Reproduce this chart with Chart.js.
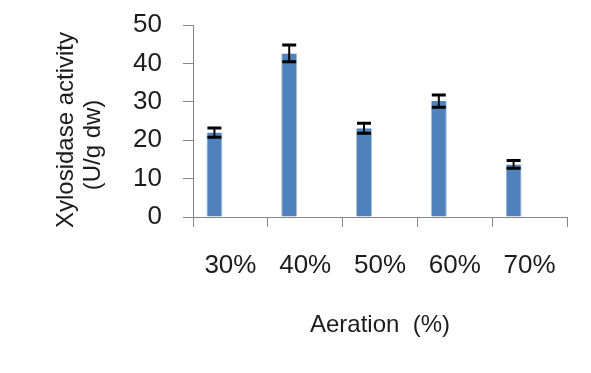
<!DOCTYPE html>
<html>
<head>
<meta charset="utf-8">
<script src="https://cdn.jsdelivr.net/npm/chart.js@4/dist/chart.umd.min.js"></script>
<style>
  html, body { margin: 0; padding: 0; background: #ffffff; }
  #wrap { width: 591px; height: 373px; position: relative; }
</style>
</head>
<body>
<div id="wrap"><canvas id="chart" width="591" height="373"></canvas></div>
<script>
// Xylosidase activity at different aeration levels
const categories = ['30%', '40%', '50%', '60%', '70%'];
const activity = [22.0, 42.6, 23.1, 30.2, 13.7];
const activityError = [1.2, 2.2, 1.3, 1.6, 1.0];
const emptySeries = [null, null, null, null, null];
const yTitleLines = ['Xylosidase activity', '(U/g dw)'];
const xTitle = 'Aeration  (%)';

const AXIS_COLOR = '#868686';
const TEXT_COLOR = '#1c1c1c';
const FONT = '"Liberation Sans", Arial, sans-serif';

// Black error bars with caps, drawn through the y scale
const errorBars = {
  id: 'errorBars',
  afterDatasetsDraw(chart) {
    const meta = chart.getDatasetMeta(0);
    const y = chart.scales.y;
    const ctx = chart.ctx;
    ctx.save();
    ctx.strokeStyle = '#000000';
    meta.data.forEach((bar, i) => {
      const v = activity[i], e = activityError[i];
      const top = y.getPixelForValue(v + e);
      const bot = y.getPixelForValue(v - e);
      const half = 7;
      ctx.lineWidth = 2;
      ctx.beginPath();
      ctx.moveTo(bar.x, top);
      ctx.lineTo(bar.x, bot);
      ctx.stroke();
      ctx.lineWidth = 3;
      ctx.beginPath();
      ctx.moveTo(bar.x - half, top);
      ctx.lineTo(bar.x + half, top);
      ctx.moveTo(bar.x - half, bot);
      ctx.lineTo(bar.x + half, bot);
      ctx.stroke();
    });
    ctx.restore();
  }
};

// Two-line rotated title for the value axis
const yAxisTitle = {
  id: 'yAxisTitle',
  afterDraw(chart) {
    const ctx = chart.ctx;
    const area = chart.chartArea;
    const mid = (area.top + area.bottom) / 2;
    ctx.save();
    ctx.fillStyle = TEXT_COLOR;
    ctx.font = '24px ' + FONT;
    ctx.textAlign = 'center';
    ctx.textBaseline = 'middle';
    const placements = [{ x: 66, dy: 9 }, { x: 93, dy: 24 }];
    yTitleLines.forEach((line, i) => {
      ctx.save();
      ctx.translate(placements[i].x, mid + placements[i].dy);
      ctx.rotate(-Math.PI / 2);
      ctx.fillText(line, 0, 0);
      ctx.restore();
    });
    ctx.restore();
  }
};

new Chart(document.getElementById('chart'), {
  type: 'bar',
  data: {
    labels: categories,
    datasets: [
      {
        label: 'Xylosidase activity',
        data: activity,
        backgroundColor: '#4F81BD',
        borderColor: '#A9C1DF',
        borderWidth: { left: 1, right: 1, top: 0, bottom: 0 },
        categoryPercentage: 0.855,
        barPercentage: 0.5
      },
      {
        label: '',
        data: emptySeries,
        backgroundColor: '#4F81BD',
        categoryPercentage: 0.855,
        barPercentage: 0.5
      }
    ]
  },
  options: {
    responsive: false,
    animation: false,
    devicePixelRatio: 1,
    layout: { padding: { left: 0, right: 24, top: 25, bottom: 33 } },
    plugins: {
      legend: { display: false },
      tooltip: { enabled: false },
      title: { display: false }
    },
    scales: {
      x: {
        grid: {
          display: true,
          drawOnChartArea: false,
          drawTicks: true,
          tickLength: 10,
          color: AXIS_COLOR,
          offset: true
        },
        border: { display: true, color: AXIS_COLOR, width: 1 },
        ticks: {
          color: TEXT_COLOR,
          font: { family: FONT, size: 26 },
          padding: 23,
          maxRotation: 0
        },
        title: {
          display: true,
          text: xTitle,
          color: TEXT_COLOR,
          font: { family: FONT, size: 24 },
          padding: { top: 20, bottom: 0 }
        },
        afterFit(scale) {
          scale.height = 123;
          scale.paddingLeft = 0;
          scale.paddingRight = 0;
        }
      },
      y: {
        min: 0,
        max: 50,
        ticks: {
          stepSize: 10,
          color: TEXT_COLOR,
          font: { family: FONT, size: 26 },
          padding: 21
        },
        grid: {
          display: true,
          drawOnChartArea: false,
          drawTicks: true,
          tickLength: 10,
          color: AXIS_COLOR
        },
        border: { display: true, color: AXIS_COLOR, width: 1 },
        afterFit(scale) {
          scale.width = 193;
          scale.paddingTop = 0;
          scale.paddingBottom = 0;
        }
      }
    }
  },
  plugins: [errorBars, yAxisTitle]
});
</script>
</body>
</html>
